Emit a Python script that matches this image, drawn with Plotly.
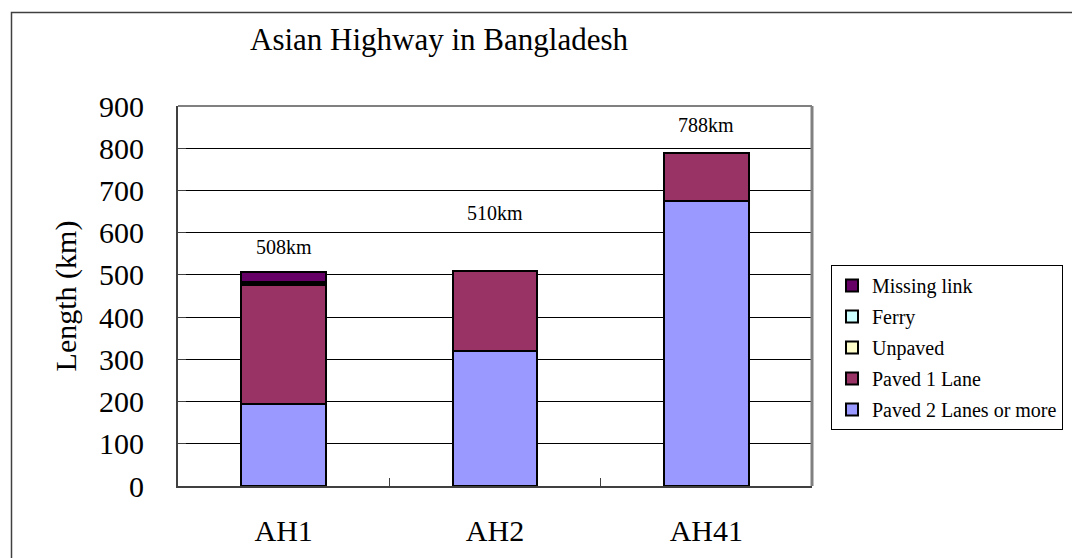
import plotly.graph_objects as go

categories = ["AH1", "AH2", "AH41"]
paved_2_lanes = [194, 319, 676]
paved_1_lane = [283, 191, 112]
unpaved = [3, 0, 0]
ferry = [2, 0, 0]
missing_link = [26, 0, 0]
total_labels = ["508km", "510km", "788km"]
label_y = [565, 646, 854]

series = [
    ("Paved 2 Lanes or more", paved_2_lanes, "#9999FF"),
    ("Paved 1 Lane", paved_1_lane, "#993366"),
    ("Unpaved", unpaved, "#FFFFCC"),
    ("Ferry", ferry, "#CCFFFF"),
    ("Missing link", missing_link, "#660066"),
]

FONT = "Liberation Serif, Times New Roman, serif"

W, H = 1072, 558
PL, PT, PB, PR = 178, 106, 486, 812   # plot area in page pixels
pw = PR - PL
ph = PB - PT
L, T = PL, PT
R = W - PR
B = H - PB


def px_x(px):
    return (px - PL) / pw


def px_y(py):
    return (PB - py) / ph


fig = go.Figure()
for rank, (name, vals, col) in enumerate(series):
    fig.add_trace(go.Bar(
        x=categories, y=vals, name=name, legendgroup=name,
        legendrank=100 - rank,
        marker=dict(color=col, line=dict(color="black", width=2)),
        hoverinfo="skip",
    ))

for cat, txt, yy in zip(categories, total_labels, label_y):
    fig.add_annotation(x=cat, y=yy, text=txt, showarrow=False,
                       font=dict(family=FONT, size=20, color="black"),
                       xanchor="center", yanchor="middle")

# plot area frame (top and right in grey)
fig.add_shape(type="line", xref="paper", yref="paper", x0=0, x1=1, y0=1, y1=1,
              line=dict(color="#808080", width=2))
fig.add_shape(type="line", xref="paper", yref="paper", x0=1, x1=1, y0=0, y1=1,
              line=dict(color="#808080", width=3))

# outer chart border (extends beyond the visible area on right and bottom)
fig.add_shape(type="rect", xref="paper", yref="paper",
              x0=px_x(11.5), x1=px_x(1300),
              y0=px_y(800), y1=px_y(12.5),
              line=dict(color="#404040", width=1.5), layer="below")

fig.update_layout(
    width=W, height=H,
    margin=dict(l=L, r=R, t=T, b=B, autoexpand=False),
    paper_bgcolor="white", plot_bgcolor="white",
    barmode="stack", bargap=0.6,
    font=dict(family=FONT, color="black"),
    title=dict(text="Asian Highway in Bangladesh",
               font=dict(family=FONT, size=31, color="black"),
               xref="container", x=439 / W, xanchor="center",
               yref="container", y=1 - 39 / H, yanchor="middle"),
    showlegend=True,
    legend=dict(
        x=px_x(831), y=px_y(265),
        xanchor="left", yanchor="top",
        traceorder="grouped", tracegroupgap=2,
        font=dict(family=FONT, size=20, color="black"),
        bgcolor="white", bordercolor="black", borderwidth=1,
    ),
    xaxis=dict(
        automargin=False,
        showline=True, linecolor="#404040", linewidth=2,
        ticks="inside", tickson="boundaries", ticklen=8, tickcolor="#404040",
        tickfont=dict(family=FONT, size=30, color="black"),
        ticklabelstandoff=17,
        showgrid=False, fixedrange=True,
    ),
    yaxis=dict(
        automargin=False,
        range=[0, 900], dtick=100, tick0=0,
        showline=True, linecolor="#404040", linewidth=2,
        ticks="inside", ticklen=8, tickcolor="#404040",
        tickfont=dict(family=FONT, size=30, color="black"),
        ticklabelstandoff=26,
        showgrid=True, gridcolor="black", gridwidth=1,
        zeroline=False, fixedrange=True,
        title=dict(text="Length (km)", font=dict(family=FONT, size=30, color="black"),
                   standoff=14),
    ),
)

fig.write_html(
    "out.html",
    config={"displayModeBar": False, "staticPlot": True},
    post_script="document.body.style.margin='0';document.body.style.overflow='hidden';",
)
